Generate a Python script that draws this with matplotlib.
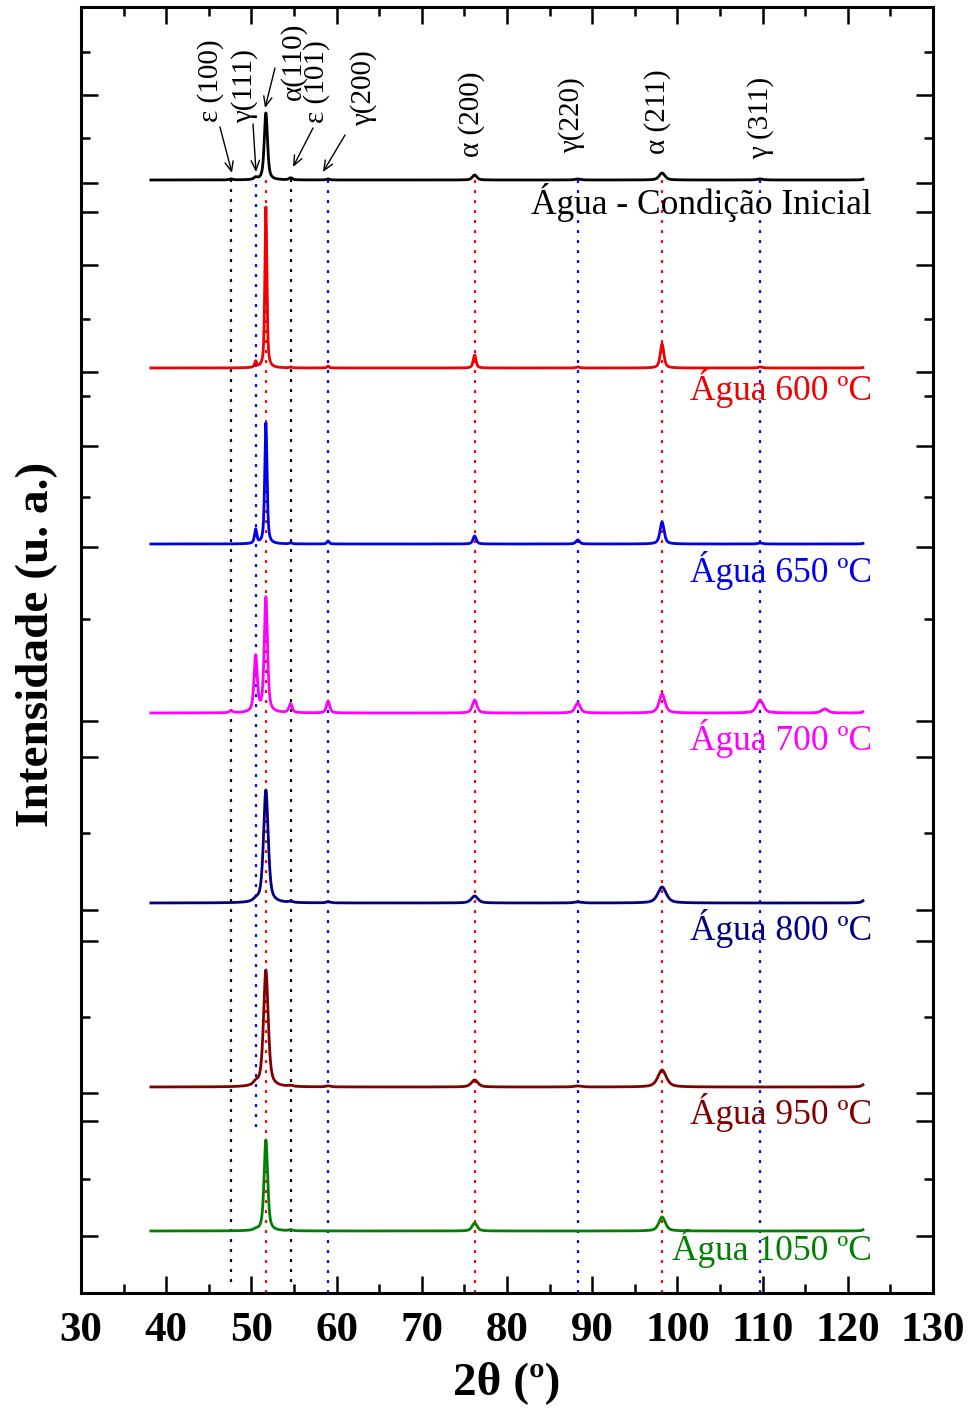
import numpy as np
import matplotlib
matplotlib.use("Agg")
import matplotlib.pyplot as plt

plt.rcParams["font.family"] = ["Liberation Serif", "DejaVu Serif"]

# ---------------------------------------------------------------- data
# Reflection positions (2theta, degrees)
peak_names = ["e100", "g111", "a110", "e101", "g200", "a200", "g220", "a211", "g311", "x117", "end"]
peak_pos = [47.6, 50.5, 51.7, 54.6, 59.0, 76.2, 88.3, 98.2, 109.7, 117.3, 122.2]
# relative broadening of each reflection
peak_wfac = [1.0, 1.0, 1.0, 1.0, 1.0, 1.4, 1.6, 1.8, 2.0, 2.0, 1.2]

samples = ["Água - Condição Inicial", "Água 600 ºC", "Água 650 ºC", "Água 700 ºC",
           "Água 800 ºC", "Água 950 ºC", "Água 1050 ºC"]
colors = ["#000000", "#f00000", "#0000ee", "#ff00ff", "#000080", "#800000", "#008000"]

# peak intensities (a.u.) for each sample, ordered as peak_pos
heights = [
    [1, 2, 67, 2, 1, 5, 1, 7, 1, 0, 3],
    [0, 6, 161, 1, 2, 13, 1, 24, 1, 0, 5],
    [0, 14, 121, 1, 3, 8, 4, 22, 1, 0, 5],
    [2, 56, 115, 9, 12, 13, 10, 19, 13, 4, 5],
    [0, 2, 113, 1, 1, 7, 1, 16, 0, 0, 5],
    [0, 3, 117, 1, 1, 7, 1, 17, 0, 0, 5],
    [0, 1, 91, 1, 0, 8, 0, 14, 0, 0, 4],
]
# base peak width (FWHM, degrees) per sample
fwhm = [0.45, 0.28, 0.32, 0.45, 0.65, 0.65, 0.5]
# vertical stacking offsets
offsets = [1113, 925, 749, 580, 390, 206, 62]

two_theta = np.arange(38.2, 121.8, 0.02)

# reference lines: position, colour, lower end
ref_pos = [47.6, 50.5, 51.7, 54.6, 59.0, 76.2, 88.3, 98.2, 109.7]
ref_col = ["black", "blue", "red", "black", "blue", "red", "blue", "red", "blue"]
ref_low = [11, 166, 0, 11, 0, 0, 0, 0, 0]

phase_labels = ["ε (100)", "γ(111)", "α(110)", "ε (101)", "γ(200)",
                "α (200)", "γ(220)", "α (211)", "γ (311)"]


def pseudo_voigt(x, x0, w, eta=0.6):
    hw = w / 2.0
    u = (x - x0) / hw
    return eta / (1.0 + u ** 2) + (1 - eta) * np.exp(-np.log(2) * u ** 2)


# ---------------------------------------------------------------- figure
fig = plt.figure(figsize=(9.71, 14.11), dpi=100)
ax = fig.add_axes([81 / 971, 1 - 1293 / 1411, 852 / 971, 1286 / 1411])
ax.set_xlim(30, 130)
ax.set_ylim(0, 1286)

# dotted reference lines
for xp, c, lo in zip(ref_pos, ref_col, ref_low):
    ax.plot([xp, xp], [lo, 1116], color=c, lw=1.6, ls=(0, (1.3, 3.2)), zorder=1)

# diffraction patterns
for i in range(len(samples)):
    y = np.full_like(two_theta, offsets[i], dtype=float)
    for x0, wf, h in zip(peak_pos, peak_wfac, heights[i]):
        if h:
            y += h * pseudo_voigt(two_theta, x0, fwhm[i] * wf)
    ax.plot(two_theta, y, color=colors[i], lw=2.0, zorder=3)

# sample names
name_y = [1091, 905, 722, 555, 364, 180, 44]
for s, c, yy in zip(samples, colors, name_y):
    ax.text(122.8, yy, s, color=c, fontsize=25.5, ha="right", va="center", zorder=4)

# phase labels (rotated)
lab_xy = [(45.26, 1212), (49.25, 1207), (54.9, 1232), (57.7, 1211), (63.22, 1205),
          (75.89, 1179), (87.63, 1178), (97.61, 1181), (109.81, 1175)]
for t, (lx, ly) in zip(phase_labels, lab_xy):
    ax.text(lx, ly, t, rotation=90, fontsize=21, ha="center", va="center")

# arrows to the low-angle reflections
arrows = [((46.31, 1166), (47.72, 1120)),
          ((50.19, 1169), (50.54, 1121)),
          ((52.77, 1225), (51.6, 1185)),
          ((57.23, 1165), (54.88, 1126)),
          ((60.99, 1158), (58.40, 1121))]
for start, end in arrows:
    ax.annotate("", xy=end, xytext=start,
                arrowprops=dict(arrowstyle="->,head_length=0.7,head_width=0.3",
                                color="black", lw=1.0, shrinkA=0, shrinkB=0))

# axes styling
for sp in ax.spines.values():
    sp.set_linewidth(2.2)

ax.set_xticks(np.arange(30, 131, 10))
ax.set_xticks(np.arange(35, 130, 10), minor=True)
ax.set_xticklabels([str(v) for v in range(30, 131, 10)], fontsize=31, fontweight="bold")

y_major = [1198, 1110, 1081, 1028, 921, 847, 746, 572, 536, 383, 352, 200, 172, 57]
y_minor = [1241, 1155, 974, 897, 796, 674, 460, 276, 114]
ax.set_yticks(y_major)
ax.set_yticks(y_minor, minor=True)
ax.set_yticklabels([])

ax.tick_params(axis="both", which="major", direction="in", length=12, width=1.8,
               top=True, right=True)
ax.tick_params(axis="both", which="minor", direction="in", length=6.5, width=1.8,
               top=True, right=True)
ax.tick_params(axis="x", which="major", pad=14)

ax.set_xlabel("2θ (º)", fontsize=34, fontweight="bold", labelpad=8)
ax.set_ylabel("Intensidade (u. a.)", fontsize=34, fontweight="bold")
ax.yaxis.set_label_coords(-0.027, 0.504)

fig.savefig("out.png", dpi=100)
